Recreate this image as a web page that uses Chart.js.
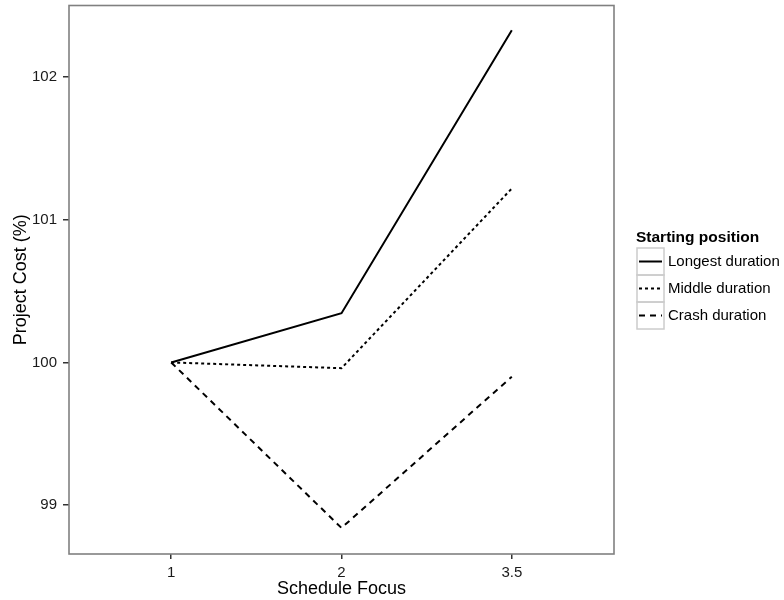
<!DOCTYPE html>
<html>
<head>
<meta charset="utf-8">
<script src="https://cdn.jsdelivr.net/npm/chart.js@4/dist/chart.umd.min.js"></script>
<style>
  html, body { margin: 0; padding: 0; background: #ffffff; }
  #wrap { width: 784px; height: 600px; position: relative; }
</style>
</head>
<body>
<div id="wrap"><canvas id="c" width="784" height="600"></canvas></div>
<script>
// Schedule focus levels (x categories) and project cost (%) per starting position
const focusLabels = ['1', '2', '3.5'];
const longestDuration = [100.0, 100.345, 102.33];
const middleDuration = [100.0, 99.96, 101.22];
const crashDuration = [100.0, 98.84, 99.9];
const yTicks = [99, 100, 101, 102];
const seriesNames = ['Longest duration', 'Middle duration', 'Crash duration'];

const FONT = '"Liberation Sans", Arial, Helvetica, sans-serif';
const dashStyles = [[], [3, 3], [6, 5]];

function toPoints(values) {
  return values.map((v, i) => ({ x: i, y: v }));
}

const seriesValues = [longestDuration, middleDuration, crashDuration];
const datasets = seriesValues.map((vals, k) => ({
  label: seriesNames[k],
  data: toPoints(vals),
  borderColor: '#000000',
  borderWidth: 2,
  borderDash: dashStyles[k],
  pointRadius: 0,
  tension: 0,
  fill: false
}));

// Panel border plus a legend drawn beside the panel
const panelAndLegend = {
  id: 'panelAndLegend',
  afterDraw(chart) {
    const ctx = chart.ctx;
    const a = chart.chartArea;
    ctx.save();
    ctx.strokeStyle = '#808080';
    ctx.lineWidth = 1.6;
    ctx.strokeRect(a.left, a.top, a.right - a.left, a.bottom - a.top);

    // legend title
    const lx = 636;
    ctx.fillStyle = '#000000';
    ctx.font = 'bold 15.5px ' + FONT;
    ctx.textAlign = 'left';
    ctx.textBaseline = 'middle';
    ctx.fillText('Starting position', lx, 238);

    const keyTop = 248;
    const keySize = 27;
    chart.data.datasets.forEach((ds, i) => {
      const top = keyTop + i * keySize;
      const cy = top + keySize / 2;
      ctx.setLineDash([]);
      ctx.strokeStyle = '#cccccc';
      ctx.lineWidth = 1.5;
      ctx.strokeRect(lx + 1, top, keySize, keySize);
      ctx.strokeStyle = ds.borderColor;
      ctx.lineWidth = 2;
      ctx.setLineDash(ds.borderDash);
      ctx.beginPath();
      ctx.moveTo(lx + 3, cy);
      ctx.lineTo(lx + keySize - 1, cy);
      ctx.stroke();
      ctx.setLineDash([]);
      ctx.fillStyle = '#000000';
      ctx.font = '15px ' + FONT;
      ctx.fillText(ds.label, lx + keySize + 5, cy + 0.5);
    });
    ctx.restore();
  }
};

new Chart(document.getElementById('c'), {
  type: 'line',
  data: { datasets },
  plugins: [panelAndLegend],
  options: {
    responsive: false,
    animation: false,
    layout: { padding: { left: 0, top: 5.5, right: 170, bottom: 0 } },
    plugins: {
      legend: { display: false },
      tooltip: { enabled: false }
    },
    scales: {
      x: {
        type: 'linear',
        min: -0.6,
        max: 2.6,
        afterBuildTicks(scale) {
          scale.ticks = focusLabels.map((_, i) => ({ value: i }));
        },
        afterFit(scale) {
          scale.height = 46;
          scale.paddingLeft = 0;
          scale.paddingRight = 0;
        },
        ticks: {
          callback: (v) => focusLabels[v],
          color: '#1a1a1a',
          font: { family: FONT, size: 15 },
          padding: 5,
          maxRotation: 0
        },
        grid: {
          drawOnChartArea: false,
          drawTicks: true,
          tickLength: 5,
          color: '#333333',
          lineWidth: 1.5
        },
        border: { display: false },
        title: {
          display: true,
          text: 'Schedule Focus',
          color: '#000000',
          font: { family: FONT, size: 18 },
          padding: { top: 0, bottom: 0 }
        }
      },
      y: {
        type: 'linear',
        min: 98.657,
        max: 102.503,
        afterBuildTicks(scale) {
          scale.ticks = yTicks.map(v => ({ value: v }));
        },
        afterFit(scale) {
          scale.width = 69;
          scale.paddingTop = 0;
          scale.paddingBottom = 0;
        },
        ticks: {
          callback: (v) => String(v),
          color: '#1a1a1a',
          font: { family: FONT, size: 15 },
          padding: 6
        },
        grid: {
          drawOnChartArea: false,
          drawTicks: true,
          tickLength: 6,
          color: '#333333',
          lineWidth: 1.5
        },
        border: { display: false },
        title: {
          display: true,
          text: 'Project Cost (%)',
          color: '#000000',
          font: { family: FONT, size: 18 },
          padding: { top: 10, bottom: 0 }
        }
      }
    }
  }
});
</script>
</body>
</html>
